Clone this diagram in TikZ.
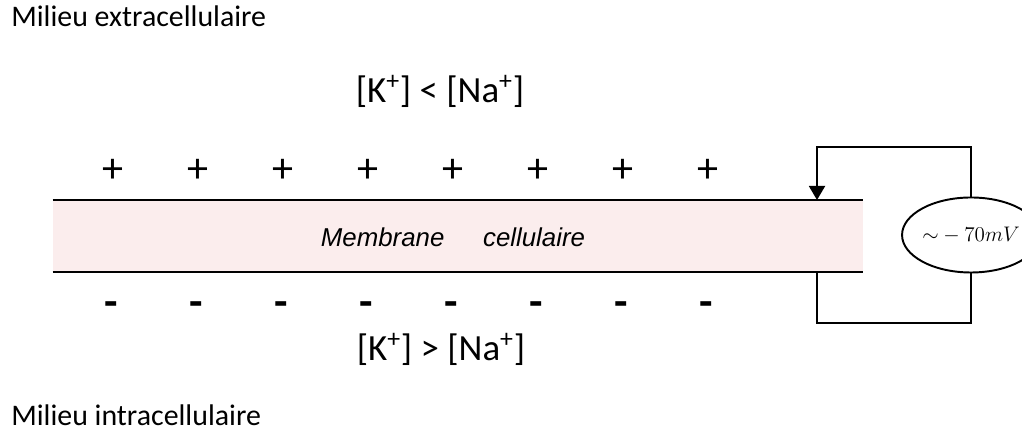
\documentclass[tikz,border=0pt]{standalone}
\usepackage{fontspec}
\setmainfont{Carlito}
\newfontfamily\arialfont{Liberation Sans}
\usetikzlibrary{shapes.geometric, arrows.meta}

\definecolor{membranepink}{RGB}{251,237,237}

\tikzset{
  wire/.style={line width=1.1pt},
  charge/.style={font=\fontsize{24}{26}\selectfont, inner sep=0pt, text height=1.2ex, text depth=0pt},
  milieu/.style={font=\fontsize{17}{19}\selectfont, anchor=base west, inner sep=0pt},
  conc/.style={font=\fontsize{21}{23}\selectfont, anchor=base, inner sep=0pt}
}

\begin{document}
\begin{tikzpicture}
  \useasboundingbox (0,0) rectangle (20.44,8.64);

  % The membrane: pink band with top and bottom lines.
  \node[fill=membranepink, minimum width=16.2cm, minimum height=1.44cm, inner sep=0pt] (mem) at (9.16,3.92) {};
  \draw[wire] (mem.north west) -- (mem.north east);
  \draw[wire] (mem.south west) -- (mem.south east);
  \node[font=\arialfont\itshape\fontsize{14.7}{16}\selectfont] (memlabel) at (9.06,3.9) {Membrane\hspace{1.5em}cellulaire};

  % Charges on both sides
  \foreach \i in {0,...,7} {
    \node[charge] (plus\i) at (2.26+1.7*\i,5.10) {+};
    \node[charge, font=\fontsize{25}{27}\selectfont\bfseries] (minus\i) at (2.22+1.7*\i,2.41) {-};
  }

  % Media and concentrations
  \node[milieu] (extra) at (0.22,8.10) {Milieu extracellulaire};
  \node[milieu] (intra) at (0.22,0.12) {Milieu intracellulaire};
  \node[conc] (concout) at (8.8,6.58) {[K\textsuperscript{+}] < [Na\textsuperscript{+}]};
  \node[conc] (concin) at (8.82,1.42) {[K\textsuperscript{+}] > [Na\textsuperscript{+}]};

  % Voltmeter
  \node[draw, wire, ellipse, minimum width=2.12cm, minimum height=1.5cm, inner sep=0pt, font=\fontsize{12}{14}\selectfont] (volt) at (19.42,3.94) {${\sim} - 70mV$};
  \coordinate (probetop) at (16.34,4.64);
  \coordinate (probebot) at (16.34,3.20);
  \draw[wire, -{Triangle[length=0.28cm, width=0.32cm]}] (volt.north) -- (volt.north |- 0,5.70) -| (probetop);
  \draw[wire] (volt.south) -- (volt.south |- 0,2.18) -| (probebot);
\end{tikzpicture}
\end{document}
